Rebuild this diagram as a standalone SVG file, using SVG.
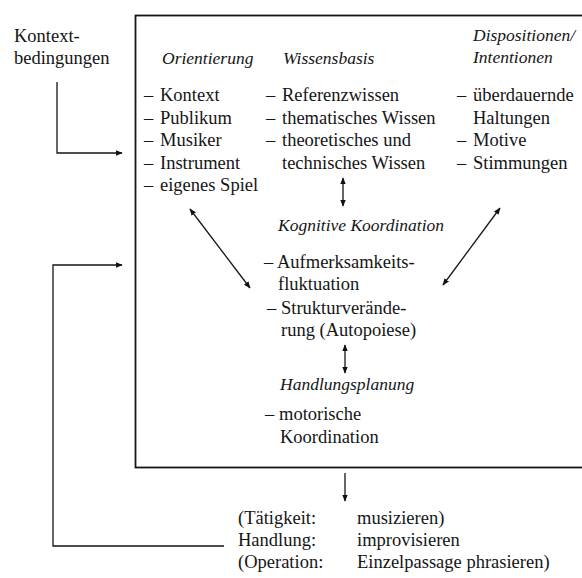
<svg xmlns="http://www.w3.org/2000/svg" width="582" height="578" viewBox="0 0 582 578">
<defs>
<marker id="ah" viewBox="0 0 10 10" refX="9" refY="5" markerWidth="7" markerHeight="7" markerUnits="userSpaceOnUse" orient="auto-start-reverse">
<path d="M0,1 L10,5 L0,9 Z" fill="#111"/>
</marker>
<style>
text{font-family:"Liberation Serif",serif;font-size:18.5px;fill:#151515}
.h{font-style:italic;font-size:17.5px}
.ln{fill:none;stroke:#151515;stroke-width:1.3}
.box{fill:none;stroke:#151515;stroke-width:1.8}
</style>
</defs>
<rect width="582" height="578" fill="#fff"/>
<g id="frame"><rect class="box" x="135.5" y="15.5" width="470" height="452"/></g>
<g id="kontext"><text x="14" y="42">Kontext-</text><text x="14" y="64">bedingungen</text></g>
<g id="orientierung">
<text class="h" x="162" y="64">Orientierung</text>
<text y="101"><tspan x="144">–</tspan><tspan x="160">Kontext</tspan></text>
<text y="123.5"><tspan x="144">–</tspan><tspan x="160">Publikum</tspan></text>
<text y="146"><tspan x="144">–</tspan><tspan x="160">Musiker</tspan></text>
<text y="168.5"><tspan x="144">–</tspan><tspan x="160">Instrument</tspan></text>
<text y="191"><tspan x="144">–</tspan><tspan x="160">eigenes Spiel</tspan></text>
</g>
<g id="wissensbasis">
<text class="h" x="283" y="64">Wissensbasis</text>
<text y="101"><tspan x="266">–</tspan><tspan x="282">Referenzwissen</tspan></text>
<text y="123.5"><tspan x="266">–</tspan><tspan x="282">thematisches Wissen</tspan></text>
<text y="146"><tspan x="266">–</tspan><tspan x="282">theoretisches und</tspan></text>
<text x="282" y="168.5">technisches Wissen</text>
</g>
<g id="dispositionen">
<text class="h" x="473" y="41">Dispositionen/</text>
<text class="h" x="473" y="63">Intentionen</text>
<text y="101"><tspan x="457">–</tspan><tspan x="473">überdauernde</tspan></text>
<text x="473" y="123.5">Haltungen</text>
<text y="146"><tspan x="457">–</tspan><tspan x="473">Motive</tspan></text>
<text y="168.5"><tspan x="457">–</tspan><tspan x="473">Stimmungen</tspan></text>
</g>
<g id="kognitive">
<text class="h" x="278" y="231">Kognitive Koordination</text>
<text y="268"><tspan x="264">–</tspan><tspan x="277">Aufmerksamkeits-</tspan></text>
<text x="278" y="290">fluktuation</text>
<text y="314"><tspan x="267">–</tspan><tspan x="281">Strukturverände-</tspan></text>
<text x="281" y="336">rung (Autopoiese)</text>
</g>
<g id="handlungsplanung">
<text class="h" x="280" y="390">Handlungsplanung</text>
<text y="420"><tspan x="265">–</tspan><tspan x="279">motorische</tspan></text>
<text x="280" y="443">Koordination</text>
</g>
<g id="ergebnis">
<text x="238" y="524">(Tätigkeit:</text><text x="357" y="524">musizieren)</text>
<text x="238" y="546">Handlung:</text><text x="357" y="546">improvisieren</text>
<text x="238" y="568">(Operation:</text><text x="357" y="568">Einzelpassage phrasieren)</text>
</g>
<g id="connectors">
<path class="ln" d="M57,82 V153 H122" marker-end="url(#ah)"/>
<path class="ln" d="M224,546 H53 V265 H122" marker-end="url(#ah)"/>
<path class="ln" d="M343,178 V206" marker-start="url(#ah)" marker-end="url(#ah)"/>
<path class="ln" d="M190,209 L250,288" marker-start="url(#ah)" marker-end="url(#ah)"/>
<path class="ln" d="M500,208 L443,285" marker-start="url(#ah)" marker-end="url(#ah)"/>
<path class="ln" d="M345,345 V373" marker-start="url(#ah)" marker-end="url(#ah)"/>
<path class="ln" d="M345,473 V501" marker-end="url(#ah)"/>
</g>
</svg>
